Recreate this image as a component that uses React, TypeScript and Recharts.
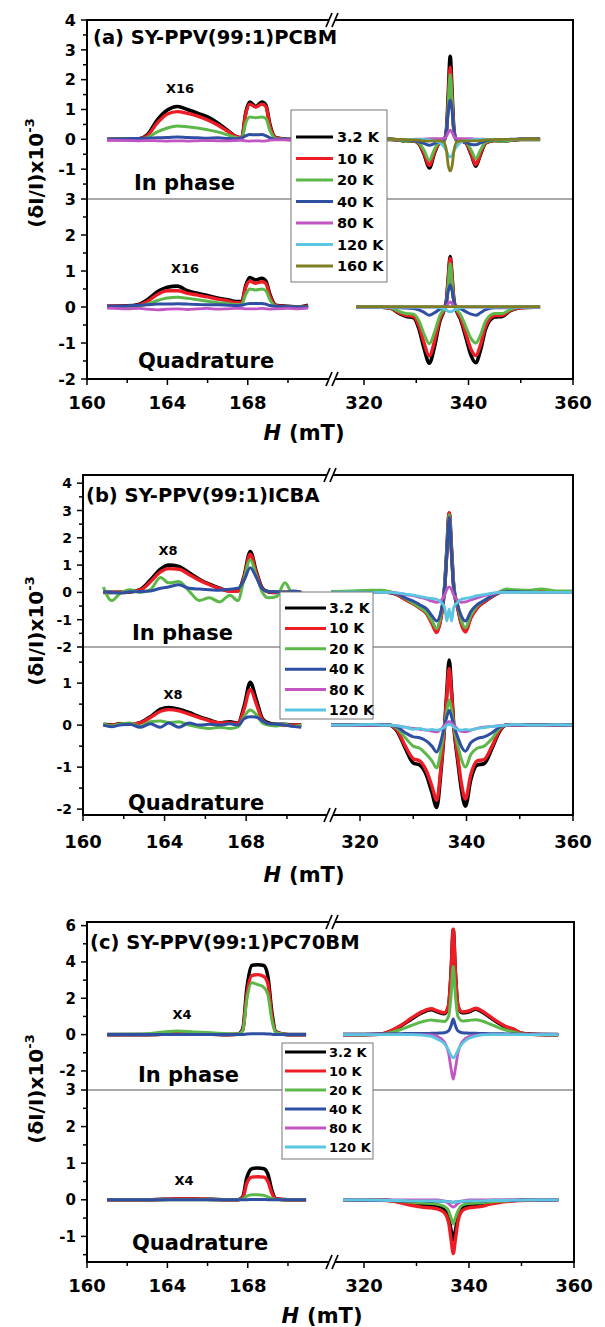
import React from 'react';
import { LineChart, Line, XAxis, YAxis } from 'recharts';

const FONT = '"DejaVu Sans", "Liberation Sans", sans-serif';

// ---------- series ----------
const seriesNames = ['3.2 K', '10 K', '20 K', '40 K', '80 K', '120 K', '160 K'];
const seriesColors = ['#000000', '#ee1c24', '#5cb848', '#2f4fa3', '#c255c4', '#5bc6e2', '#7f7f22'];
const seriesWidths = [3.6, 3.4, 3, 3, 2.8, 2.8, 2.8];

// ---------- x ticks ----------
const leftXTicks = [160, 162, 164, 166, 168, 170];
const leftXLabels = [160, 164, 168];
const rightXTicks = [320, 330, 340, 350, 360];
const rightXLabels = [320, 340, 360];

// ---------- panel (a) PCBM ----------
const aLeftX = [161, 162, 162.6, 163, 163.5, 164, 164.5, 165, 165.5, 166, 166.5, 167, 167.4, 167.7, 167.9, 168.1, 168.4, 168.7, 168.9, 169.1, 169.4, 170, 170.5, 171];
const aInLeft = [
  [0, 0, 0.02, 0.15, 0.65, 0.98, 1.1, 1.0, 0.88, 0.75, 0.55, 0.3, 0.1, 0.05, 0.9, 1.25, 1.1, 1.25, 1.15, 0.5, 0.05, 0, 0, 0],
  [0, 0, 0.02, 0.12, 0.55, 0.85, 0.93, 0.87, 0.78, 0.65, 0.48, 0.27, 0.1, 0.05, 0.85, 1.18, 1.08, 1.18, 1.1, 0.45, 0.05, 0, 0, 0],
  [0, 0, 0, 0.06, 0.25, 0.38, 0.45, 0.42, 0.38, 0.32, 0.25, 0.15, 0.06, 0.03, 0.55, 0.75, 0.72, 0.75, 0.7, 0.3, 0.02, 0, 0, 0],
  [0, 0.02, 0.03, 0.04, 0.05, 0.06, 0.08, 0.06, 0.05, 0.04, 0.05, 0.03, 0.02, 0.05, 0.12, 0.16, 0.15, 0.16, 0.12, 0.05, 0, 0, 0, 0],
  [-0.03, -0.04, -0.05, -0.04, -0.05, -0.06, -0.05, -0.06, -0.05, -0.04, -0.05, -0.05, -0.04, -0.03, -0.05, -0.06, -0.05, -0.06, -0.05, -0.03, -0.02, -0.02, -0.02, -0.02],
];
const aQuLeft = [
  [0.02, 0.03, 0.08, 0.2, 0.42, 0.55, 0.58, 0.45, 0.38, 0.32, 0.25, 0.2, 0.15, 0.15, 0.6, 0.82, 0.75, 0.8, 0.72, 0.35, 0.05, 0.02, 0, 0.05],
  [0.02, 0.02, 0.06, 0.15, 0.35, 0.45, 0.45, 0.38, 0.33, 0.28, 0.22, 0.17, 0.12, 0.12, 0.55, 0.72, 0.66, 0.7, 0.65, 0.3, 0.04, 0.01, 0, 0.03],
  [0, 0, 0.02, 0.08, 0.18, 0.25, 0.27, 0.24, 0.2, 0.16, 0.12, 0.1, 0.07, 0.07, 0.35, 0.5, 0.47, 0.5, 0.45, 0.2, 0.02, 0, 0, 0],
  [0.02, 0.03, 0.05, 0.06, 0.08, 0.08, 0.09, 0.08, 0.07, 0.06, 0.06, 0.05, 0.04, 0.05, 0.08, 0.1, 0.1, 0.1, 0.08, 0.04, 0.02, 0.01, 0, 0.01],
  [-0.03, -0.05, -0.04, -0.06, -0.08, -0.06, -0.05, -0.07, -0.05, -0.04, -0.06, -0.05, -0.04, -0.04, -0.05, -0.05, -0.05, -0.04, -0.05, -0.06, -0.05, -0.04, -0.05, -0.03],
];
const aRightX = [318.5, 322, 325, 327, 328, 329.5, 330.5, 331.5, 332.5, 333.5, 334.5, 335.3, 335.8, 336.1, 336.5, 336.9, 337.2, 337.7, 338.5, 339.5, 340.5, 341.4, 342.3, 343.3, 345, 346.5, 348, 350, 353.7];
const aInRight = [
  [0, 0, 0, -0.03, -0.06, -0.05, -0.15, -0.5, -0.96, -0.45, -0.1, -0.05, 0.35, 1.4, 2.78, 1.4, 0.35, -0.05, -0.05, -0.12, -0.5, -0.9, -0.5, -0.12, -0.04, -0.06, -0.03, 0, 0],
  [0, 0, 0, -0.03, -0.06, -0.05, -0.14, -0.46, -0.88, -0.42, -0.1, -0.05, 0.3, 1.2, 2.42, 1.2, 0.3, -0.05, -0.05, -0.11, -0.47, -0.85, -0.46, -0.11, -0.04, -0.06, -0.03, 0, 0],
  [0, 0, 0, -0.03, -0.07, -0.05, -0.12, -0.37, -0.7, -0.33, -0.08, -0.04, 0.28, 1.1, 2.17, 1.1, 0.28, -0.04, -0.05, -0.09, -0.36, -0.64, -0.36, -0.09, -0.04, -0.07, -0.03, 0, 0],
  [0, 0, 0, -0.01, -0.02, -0.04, -0.08, -0.14, -0.2, -0.14, -0.06, 0, 0.3, 0.9, 1.31, 0.9, 0.3, 0, -0.04, -0.1, -0.17, -0.18, -0.12, -0.05, -0.01, -0.02, 0, 0, 0],
  [0, 0, 0, 0, 0, 0, 0.01, 0.01, 0.02, 0.02, 0.02, 0.03, 0.1, 0.22, 0.31, 0.22, 0.1, 0.03, 0.02, 0.02, 0.02, 0.01, 0.01, 0, 0, 0, 0, 0, 0],
  [0, 0, 0, 0, 0, 0, 0, -0.01, -0.02, -0.05, -0.12, -0.25, -0.4, -0.52, -0.59, -0.52, -0.4, -0.25, -0.1, -0.04, -0.02, -0.01, 0, 0, 0, 0, 0, 0, 0],
  [0, 0, 0, 0, -0.01, -0.02, -0.03, -0.05, -0.06, -0.05, -0.05, -0.1, -0.4, -0.85, -1.06, -0.85, -0.4, -0.1, -0.05, -0.05, -0.05, -0.05, -0.04, -0.02, -0.01, 0, 0, 0, 0],
];
const aQuRight = [
  [0, 0, -0.03, -0.2, -0.26, -0.3, -0.6, -1.15, -1.56, -1.1, -0.4, -0.1, 0.2, 0.75, 1.4, 0.75, 0.2, -0.1, -0.35, -0.85, -1.35, -1.55, -1.2, -0.6, -0.28, -0.26, -0.1, -0.02, 0],
  [0, 0, -0.03, -0.18, -0.23, -0.27, -0.52, -1.0, -1.36, -0.95, -0.35, -0.08, 0.18, 0.7, 1.35, 0.7, 0.18, -0.08, -0.3, -0.75, -1.18, -1.35, -1.05, -0.52, -0.24, -0.23, -0.09, -0.02, 0],
  [0, 0, -0.02, -0.14, -0.18, -0.2, -0.38, -0.75, -1.02, -0.7, -0.25, -0.05, 0.15, 0.6, 1.2, 0.6, 0.15, -0.05, -0.22, -0.55, -0.88, -1.0, -0.78, -0.38, -0.18, -0.18, -0.07, -0.01, 0],
  [0, 0, 0, -0.02, -0.03, -0.04, -0.08, -0.15, -0.23, -0.16, -0.06, 0, 0.15, 0.42, 0.62, 0.42, 0.15, 0, -0.05, -0.13, -0.2, -0.23, -0.16, -0.07, -0.02, -0.02, -0.01, 0, 0],
  [0, 0, 0, 0, 0, 0, 0, 0, 0, 0, 0, 0.01, 0.03, 0.09, 0.14, 0.09, 0.03, 0.01, 0, 0, 0, 0, 0, 0, 0, 0, 0, 0, 0],
  [0, 0, 0, 0, 0, 0, 0, 0, 0, 0, -0.02, -0.05, -0.09, -0.12, -0.13, -0.12, -0.09, -0.05, -0.02, 0, 0, 0, 0, 0, 0, 0, 0, 0, 0],
  [0.01, 0.01, 0.01, 0.01, 0.01, 0.01, 0.01, 0.01, 0.01, 0.01, 0.01, 0.01, 0.01, 0.01, 0.01, 0.01, 0.01, 0.01, 0.01, 0.01, 0.01, 0.01, 0.01, 0.01, 0.01, 0.01, 0.01, 0.01, 0.01],
];

// ---------- panel (b) ICBA ----------
const bLeftX = [161, 161.4, 161.8, 162.3, 162.8, 163.3, 163.8, 164.2, 164.7, 165.2, 165.7, 166.2, 166.7, 167.2, 167.6, 167.9, 168.2, 168.5, 168.8, 169.1, 169.5, 169.9, 170.3, 170.7];
const bInLeft = [
  [0, 0, 0, 0.02, 0.1, 0.45, 0.85, 1.0, 0.95, 0.72, 0.48, 0.3, 0.15, 0.05, 0.06, 0.6, 1.5, 0.75, 0.15, 0.02, 0, 0, 0, 0],
  [0, 0, 0, 0.02, 0.08, 0.38, 0.75, 0.87, 0.85, 0.66, 0.45, 0.28, 0.14, 0.04, 0.05, 0.55, 1.4, 0.7, 0.13, 0.02, 0, 0, 0, 0],
  [0.2, -0.3, -0.05, 0.1, 0, 0.1, 0.55, 0.35, 0.4, 0.05, -0.3, -0.2, -0.35, -0.1, -0.3, 0.5, 1.2, 0.6, 0, -0.2, -0.15, 0.35, -0.05, 0],
  [0.02, 0, -0.02, 0.02, 0.03, 0.05, 0.15, 0.2, 0.28, 0.15, 0.12, 0.1, 0.08, 0.12, 0.15, 0.45, 0.9, 0.55, 0.12, 0.03, 0.02, 0, 0.05, 0],
];
const bQuLeft = [
  [0.02, 0, 0.03, 0.02, 0.06, 0.2, 0.38, 0.42, 0.38, 0.3, 0.2, 0.12, 0.05, 0.08, 0.05, 0.45, 1.02, 0.6, 0.15, 0.05, 0.02, 0.02, 0, 0],
  [0, 0, 0.02, 0.02, 0.05, 0.18, 0.33, 0.37, 0.34, 0.26, 0.18, 0.1, 0.05, 0.05, 0.04, 0.38, 0.85, 0.5, 0.12, 0.03, 0.01, 0, 0, 0],
  [0.03, -0.02, 0.02, 0.05, -0.03, 0.08, 0.1, 0.06, 0.08, 0, -0.05, -0.08, -0.05, -0.08, -0.04, 0.2, 0.36, 0.25, 0.05, 0, -0.02, 0.02, -0.03, 0],
  [0, -0.04, 0, 0.02, -0.05, 0.03, -0.05, 0.05, -0.05, 0.05, 0, 0.02, 0, 0.03, 0, 0.15, 0.2, 0.19, 0.1, 0.03, 0.02, 0, -0.03, -0.05],
];
const bRightX = [314.5, 318, 322, 324, 325.5, 327, 328.5, 330, 331.2, 332.5, 333.5, 334.4, 335.2, 335.9, 336.3, 336.75, 337.2, 337.6, 338.4, 339, 339.8, 340.8, 342, 343.3, 344.8, 346.2, 347.5, 349, 351.5, 354, 357, 360];
const bInRight = [
  [0, 0.02, 0.03, 0.02, 0, -0.08, -0.25, -0.4, -0.55, -0.75, -1.08, -1.38, -0.9, 0.2, 1.5, 2.9, 1.5, 0.2, -0.6, -1.1, -1.38, -0.9, -0.55, -0.35, -0.15, 0, 0.05, 0.05, 0.03, 0.02, 0.02, 0.02],
  [0, 0.02, 0.03, 0.02, 0, -0.08, -0.26, -0.42, -0.58, -0.78, -1.15, -1.47, -0.95, 0.2, 1.5, 2.92, 1.5, 0.2, -0.62, -1.15, -1.45, -0.95, -0.58, -0.35, -0.15, 0, 0.05, 0.05, 0.04, 0.03, 0.03, 0.03],
  [0.02, 0.05, 0.08, 0.08, 0.03, -0.05, -0.22, -0.4, -0.55, -0.75, -1.05, -1.33, -0.8, 0.3, 1.5, 2.85, 1.5, 0.3, -0.5, -1.0, -1.3, -0.85, -0.5, -0.3, -0.12, 0.02, 0.12, 0.1, 0.08, 0.12, 0.05, 0.05],
  [0, 0, 0, 0, 0, -0.05, -0.2, -0.32, -0.45, -0.6, -0.85, -1.05, -0.7, 0.2, 1.4, 2.75, 1.4, 0.2, -0.5, -0.85, -1.05, -0.7, -0.45, -0.3, -0.12, 0, 0.02, 0.02, 0.01, 0, 0, 0],
  [0, 0, 0, 0, 0, -0.03, -0.08, -0.12, -0.18, -0.25, -0.32, -0.36, -0.3, -0.1, 0.1, 0.2, 0.1, -0.1, -0.3, -0.36, -0.35, -0.28, -0.2, -0.12, -0.06, 0, 0, 0, 0, 0, 0, 0],
  [0, 0.02, 0, 0, 0, -0.02, -0.06, -0.1, -0.15, -0.2, -0.22, -0.25, -0.35, -0.55, -1.05, -0.6, -1.05, -0.55, -0.35, -0.25, -0.22, -0.18, -0.12, -0.08, -0.03, 0, 0, 0, 0, 0, 0, 0],
];
const bQuRight = [
  [0, 0, 0, 0, 0, -0.15, -0.55, -0.9, -0.95, -1.2, -1.6, -1.96, -1.1, 0, 0.8, 1.55, 0.8, 0, -0.9, -1.5, -1.93, -1.3, -0.95, -0.92, -0.55, -0.15, 0, 0, 0, 0, 0, 0],
  [0, 0, 0, 0, 0, -0.13, -0.5, -0.8, -0.85, -1.1, -1.45, -1.79, -1.0, 0, 0.7, 1.35, 0.7, 0, -0.8, -1.35, -1.76, -1.18, -0.85, -0.82, -0.5, -0.13, 0, 0, 0, 0, 0, 0],
  [0, 0, 0, 0, 0, -0.08, -0.3, -0.5, -0.55, -0.7, -0.85, -1.02, -0.6, 0, 0.35, 0.6, 0.35, 0, -0.5, -0.8, -1.0, -0.7, -0.55, -0.5, -0.32, -0.08, 0, 0, 0, 0, 0, 0],
  [0, 0, 0, 0, 0, -0.05, -0.18, -0.28, -0.3, -0.38, -0.5, -0.64, -0.38, 0, 0.2, 0.35, 0.2, 0, -0.3, -0.5, -0.62, -0.42, -0.32, -0.28, -0.18, -0.05, 0, 0, 0, 0, 0, 0],
  [0, 0, 0, 0, 0, -0.02, -0.05, -0.08, -0.1, -0.12, -0.14, -0.16, -0.1, 0, 0.05, 0.08, 0.05, 0, -0.1, -0.15, -0.16, -0.12, -0.08, -0.05, -0.03, -0.01, 0, 0, 0, 0, 0, 0],
  [0, 0, 0.02, 0, 0, -0.02, -0.05, -0.1, -0.08, -0.12, -0.1, -0.12, -0.1, -0.05, 0, 0.02, 0, -0.05, -0.1, -0.12, -0.1, -0.12, -0.08, -0.06, -0.03, -0.02, 0, 0.02, 0, 0, 0.01, 0],
];

// ---------- panel (c) PC70BM ----------
const cLeftX = [161, 162, 163, 163.8, 164.5, 165.3, 166.2, 167, 167.5, 167.75, 167.95, 168.2, 168.5, 168.8, 169, 169.2, 169.4, 170, 170.9];
const cInLeft = [
  [0, 0, 0, 0.02, 0.05, 0.04, 0.02, 0, 0.02, 0.3, 2.5, 3.8, 3.85, 3.8, 3.2, 1.2, 0.15, 0, 0],
  [0, 0, 0, 0.02, 0.05, 0.04, 0.02, 0, 0.02, 0.25, 2.2, 3.25, 3.3, 3.2, 2.8, 1.0, 0.12, 0, 0],
  [0, 0.02, 0.05, 0.15, 0.2, 0.15, 0.1, 0.05, 0.03, 0.2, 1.9, 2.85, 2.75, 2.6, 2.2, 0.8, 0.1, 0, 0],
  [0, 0, 0, 0, 0.01, 0, 0, 0, 0, 0, 0.03, 0.05, 0.05, 0.05, 0.04, 0.02, 0, 0, 0],
];
const cQuLeft = [
  [0, 0, 0, 0.01, 0.02, 0.02, 0.01, 0, 0, 0.08, 0.6, 0.85, 0.87, 0.85, 0.7, 0.25, 0.03, 0, 0],
  [0, 0, 0, 0.01, 0.02, 0.02, 0.01, 0, 0, 0.05, 0.45, 0.62, 0.63, 0.62, 0.5, 0.18, 0.02, 0, 0],
  [0, 0, 0, 0, 0, 0, 0, 0, 0, 0.02, 0.1, 0.14, 0.14, 0.12, 0.08, 0.04, 0.01, 0, 0],
  [0, 0, 0, 0, 0, 0, 0, 0, 0, 0, 0, 0.01, 0.01, 0.01, 0, 0, 0, 0, 0],
];
const cRightX = [316, 320, 323, 325, 327, 329, 331, 332.8, 334, 335.3, 336.1, 336.6, 337, 337.4, 337.9, 338.7, 339.9, 341.3, 342.5, 344, 345.5, 347, 348.5, 350, 352, 354.5, 357];
const cInRight = [
  [0, 0, 0.02, 0.18, 0.47, 0.85, 1.2, 1.37, 1.25, 1.15, 1.55, 3.45, 5.78, 3.45, 1.55, 1.2, 1.25, 1.4, 1.25, 0.95, 0.66, 0.42, 0.28, 0.07, 0.02, 0, 0],
  [0, 0, 0.02, 0.2, 0.5, 0.9, 1.25, 1.42, 1.3, 1.2, 1.6, 3.5, 5.8, 3.5, 1.6, 1.25, 1.3, 1.45, 1.3, 1.0, 0.7, 0.45, 0.3, 0.08, 0.02, 0, 0],
  [0, 0, 0.01, 0.1, 0.28, 0.5, 0.7, 0.8, 0.76, 0.72, 1.0, 2.2, 3.76, 2.2, 1.0, 0.75, 0.78, 0.82, 0.75, 0.58, 0.4, 0.25, 0.15, 0.03, 0, 0, 0],
  [0.02, 0.02, 0.03, 0.04, 0.05, 0.06, 0.06, 0.07, 0.08, 0.1, 0.2, 0.5, 0.86, 0.5, 0.2, 0.1, 0.08, 0.07, 0.06, 0.05, 0.05, 0.04, 0.03, 0.02, 0.02, 0.02, 0.01],
  [0, 0, 0, 0, 0, 0, 0, -0.02, -0.1, -0.4, -1.0, -1.9, -2.45, -1.9, -1.0, -0.4, -0.12, -0.03, 0, 0, 0, 0, 0, 0, 0, 0, 0],
  [0, 0, 0, 0, 0, 0, -0.03, -0.1, -0.25, -0.5, -0.85, -1.15, -1.28, -1.15, -0.85, -0.5, -0.22, -0.08, -0.02, 0, 0, 0, 0, 0, 0, 0, 0],
];
const cQuRight = [
  [0, 0, 0, -0.02, -0.05, -0.1, -0.13, -0.15, -0.17, -0.25, -0.45, -0.85, -1.1, -0.85, -0.45, -0.2, -0.15, -0.13, -0.12, -0.08, -0.05, -0.03, -0.02, -0.01, 0, 0, 0],
  [0, 0, -0.01, -0.03, -0.08, -0.15, -0.2, -0.22, -0.25, -0.35, -0.6, -1.1, -1.47, -1.1, -0.6, -0.3, -0.22, -0.2, -0.18, -0.12, -0.08, -0.05, -0.03, -0.02, 0, 0, 0],
  [0, 0, 0, -0.02, -0.04, -0.07, -0.09, -0.1, -0.12, -0.18, -0.3, -0.5, -0.66, -0.5, -0.3, -0.15, -0.1, -0.09, -0.08, -0.06, -0.04, -0.03, -0.02, -0.01, 0, 0, 0],
  [0, -0.01, -0.02, -0.02, -0.03, -0.03, -0.02, -0.04, -0.03, -0.04, -0.05, -0.06, -0.07, -0.06, -0.05, -0.04, -0.03, -0.02, -0.03, -0.02, -0.01, -0.01, -0.02, 0, 0, -0.01, 0],
  [0, 0, 0, 0, 0, 0, 0, 0, 0, -0.04, -0.1, -0.17, -0.2, -0.17, -0.1, -0.04, 0, 0, 0, 0, 0, 0, 0, 0, 0, 0, 0],
  [0, 0, -0.01, -0.02, -0.02, -0.03, -0.03, -0.03, -0.03, -0.04, -0.05, -0.06, -0.08, -0.06, -0.05, -0.04, -0.03, -0.03, -0.03, -0.02, -0.02, -0.02, -0.01, -0.01, 0, 0, 0],
];

// ---------- helpers ----------
function rows(xs: number[], ys: number[][]) {
  return xs.map((x, i) => {
    const r: any = { x };
    ys.forEach((arr, k) => { r['s' + k] = arr[i]; });
    return r;
  });
}

function makeYTick(labels: number[], fs: number) {
  return (props: any) => {
    const { x, y, payload } = props;
    const v = payload.value;
    const major = labels.some((l) => Math.abs(l - v) < 1e-6);
    const len = major ? 6 : 4;
    return (
      <g>
        <line x1={x} x2={x - len} y1={y} y2={y} stroke="#000" strokeWidth={1.5} />
        {major && (
          <text x={x - len - 5} y={y} dy="0.36em" textAnchor="end" fontSize={fs} fontWeight="bold" fontFamily={FONT} fill="#000">
            {String(v)}
          </text>
        )}
      </g>
    );
  };
}

function makeXTick(labels: number[], offset: number) {
  return (props: any) => {
    const { x, y, payload } = props;
    const v = payload.value;
    const major = labels.includes(v);
    const len = major ? 6 : 4;
    return (
      <g>
        <line x1={x} x2={x} y1={y} y2={y + len} stroke="#000" strokeWidth={1.5} />
        {major && (
          <text x={x} y={y + offset} dy="0.36em" textAnchor="middle" fontSize={18} fontWeight="bold" fontFamily={FONT} fill="#000">
            {String(v)}
          </text>
        )}
      </g>
    );
  };
}

type SubProps = {
  left: number; top: number; w: number; h: number;
  xDomain: [number, number]; yDomain: [number, number];
  xs: number[]; ys: number[][];
  yTicks?: number[]; yLabels?: number[]; yFont?: number;
  xTicks?: number[]; xLabels?: number[]; xOffset?: number;
};

function Sub(p: SubProps) {
  const YW = 60, XH = 45, M = 10, RM = 25;
  const showY = !!p.yTicks;
  const showX = !!p.xTicks;
  const cw = p.w + (showY ? YW : 0) + RM;
  const ch = p.h + M + (showX ? XH : M);
  return (
    <div style={{ position: 'absolute', left: p.left - (showY ? YW : 0), top: p.top - M, width: cw, height: ch }}>
      <LineChart width={cw} height={ch} data={rows(p.xs, p.ys)} margin={{ top: M, right: RM, bottom: showX ? 0 : M, left: 0 }}>
        <XAxis
          type="number" dataKey="x" domain={p.xDomain} allowDataOverflow hide={!showX}
          ticks={p.xTicks} interval={0} tickLine={false} axisLine={false} tickSize={0} tickMargin={0} height={XH}
          tick={showX ? makeXTick(p.xLabels || [], p.xOffset || 24) : false}
        />
        <YAxis
          type="number" domain={p.yDomain} allowDataOverflow hide={!showY} width={YW}
          ticks={p.yTicks} interval={0} tickLine={false} axisLine={false} tickSize={0} tickMargin={0}
          tick={showY ? makeYTick(p.yLabels || [], p.yFont || 16) : false}
        />
        {p.ys.map((arr, k) => (
          <Line
            key={k} type="monotone" dataKey={'s' + k} stroke={seriesColors[k]} strokeWidth={seriesWidths[k]}
            dot={false} isAnimationActive={false} strokeLinejoin="round"
          />
        ))}
      </LineChart>
    </div>
  );
}

type PanelLayout = {
  left: number; brk: number; right: number; top: number; mid: number; bottom: number;
  lDom: [number, number]; rDom: [number, number];
  inDom: [number, number]; quDom: [number, number];
  inTicks: number[]; inLabels: number[]; quTicks: number[]; quLabels: number[]; yFont: number; xOffset: number;
};

function Panel({ L, data }: { L: PanelLayout; data: { lx: number[]; rx: number[]; inL: number[][]; quL: number[][]; inR: number[][]; quR: number[][] } }) {
  const wl = L.brk - L.left;
  const wr = L.right - L.brk;
  const hi = L.mid - L.top;
  const hq = L.bottom - L.mid;
  return (
    <>
      <Sub left={L.left} top={L.top} w={wl} h={hi} xDomain={L.lDom} yDomain={L.inDom} xs={data.lx} ys={data.inL}
        yTicks={L.inTicks} yLabels={L.inLabels} yFont={L.yFont} />
      <Sub left={L.left} top={L.mid} w={wl} h={hq} xDomain={L.lDom} yDomain={L.quDom} xs={data.lx} ys={data.quL}
        yTicks={L.quTicks} yLabels={L.quLabels} yFont={L.yFont} xTicks={leftXTicks} xLabels={leftXLabels} xOffset={L.xOffset} />
      <Sub left={L.brk} top={L.top} w={wr} h={hi} xDomain={L.rDom} yDomain={L.inDom} xs={data.rx} ys={data.inR} />
      <Sub left={L.brk} top={L.mid} w={wr} h={hq} xDomain={L.rDom} yDomain={L.quDom} xs={data.rx} ys={data.quR}
        xTicks={rightXTicks} xLabels={rightXLabels} xOffset={L.xOffset} />
    </>
  );
}

const layA: PanelLayout = {
  left: 87, brk: 333, right: 573, top: 20, mid: 199, bottom: 379,
  lDom: [160, 172.24], rDom: [314.07, 360], inDom: [-2, 4], quDom: [-2, 3],
  inTicks: [-1.5, -1, -0.5, 0, 0.5, 1, 1.5, 2, 2.5, 3, 3.5, 4], inLabels: [-1, 0, 1, 2, 3, 4],
  quTicks: [-2, -1.5, -1, -0.5, 0, 0.5, 1, 1.5, 2, 2.5, 3], quLabels: [-2, -1, 0, 1, 2, 3], yFont: 16, xOffset: 24,
};
const layB: PanelLayout = {
  left: 83, brk: 331, right: 573, top: 475, mid: 647, bottom: 815,
  lDom: [160, 172.16], rDom: [314.55, 360], inDom: [-2, 4.3], quDom: [-2.14, 1.86],
  inTicks: [-2, -1.5, -1, -0.5, 0, 0.5, 1, 1.5, 2, 2.5, 3, 3.5, 4], inLabels: [-2, -1, 0, 1, 2, 3, 4],
  quTicks: [-2, -1.5, -1, -0.5, 0, 0.5, 1, 1.5], quLabels: [-2, -1, 0, 1], yFont: 14, xOffset: 27,
};
const layC: PanelLayout = {
  left: 87, brk: 333, right: 574, top: 922, mid: 1090, bottom: 1262,
  lDom: [160, 172.24], rDom: [314.1, 360], inDom: [-3.05, 6.2], quDom: [-1.7, 3],
  inTicks: [-2, -1, 0, 1, 2, 3, 4, 5, 6], inLabels: [-2, 0, 2, 4, 6],
  quTicks: [-1.5, -1, -0.5, 0, 0.5, 1, 1.5, 2, 2.5, 3], quLabels: [-1, 0, 1, 2, 3], yFont: 15, xOffset: 24,
};

type Deco = {
  title: string; tx: number; ty: number;
  mult: string; m1: [number, number]; m2: [number, number];
  inPos: [number, number]; quPos: [number, number];
  yTitle: [number, number]; hPos: [number, number];
  leg: { x: number; y: number; w: number; h: number; y0: number; step: number; lx1: number; lx2: number; tx: number; fs: number; n: number };
};

const decoA: Deco = {
  title: '(a) SY-PPV(99:1)PCBM', tx: 93, ty: 37, mult: 'X16', m1: [180, 88], m2: [185, 268],
  inPos: [134, 182], quPos: [138, 360], yTitle: [36, 173], hPos: [304, 432],
  leg: { x: 291, y: 110, w: 96, h: 172, y0: 137, step: 21.5, lx1: 296, lx2: 333, tx: 337, fs: 14.5, n: 7 },
};
const decoB: Deco = {
  title: '(b) SY-PPV(99:1)ICBA', tx: 86, ty: 495, mult: 'X8', m1: [168, 550], m2: [173, 694],
  inPos: [132, 632], quPos: [128, 802], yTitle: [36, 631], hPos: [304, 874],
  leg: { x: 280, y: 592, w: 93, h: 127, y0: 608, step: 20.4, lx1: 285, lx2: 326, tx: 329, fs: 14, n: 6 },
};
const decoC: Deco = {
  title: '(c) SY-PPV(99:1)PC70BM', tx: 90, ty: 942, mult: 'X4', m1: [182, 1014], m2: [184, 1180],
  inPos: [138, 1074], quPos: [132, 1242], yTitle: [36, 1089], hPos: [322, 1315],
  leg: { x: 282, y: 1043, w: 91, h: 116, y0: 1052, step: 19, lx1: 285, lx2: 326, tx: 329, fs: 13, n: 6 },
};

function BreakMark({ x, y }: { x: number; y: number }) {
  return (
    <g>
      <polygon points={`${x - 7},${y + 7} ${x - 1},${y - 7} ${x + 5},${y - 7} ${x - 1},${y + 7}`} fill="#fff" />
      <line x1={x - 7} y1={y + 7} x2={x - 1} y2={y - 7} stroke="#000" strokeWidth={1.7} />
      <line x1={x - 1} y1={y + 7} x2={x + 5} y2={y - 7} stroke="#000" strokeWidth={1.7} />
    </g>
  );
}

function Overlay({ L, D }: { L: PanelLayout; D: Deco }) {
  const t = { fontFamily: FONT, fontWeight: 'bold' as const, fill: '#000' };
  return (
    <g>
      <line x1={L.left} x2={L.right} y1={L.mid} y2={L.mid} stroke="#555" strokeWidth={1} />
      <rect x={L.left} y={L.top} width={L.right - L.left} height={L.bottom - L.top} fill="none" stroke="#000" strokeWidth={2} />
      <BreakMark x={L.brk} y={L.top} />
      <BreakMark x={L.brk} y={L.bottom} />
      <text x={D.tx} y={D.ty} dy="0.36em" fontSize={19.5} {...t}>{D.title}</text>
      <text x={D.m1[0]} y={D.m1[1]} dy="0.36em" textAnchor="middle" fontSize={13} {...t}>{D.mult}</text>
      <text x={D.m2[0]} y={D.m2[1]} dy="0.36em" textAnchor="middle" fontSize={13} {...t}>{D.mult}</text>
      <text x={D.inPos[0]} y={D.inPos[1]} dy="0.36em" fontSize={21} {...t}>In phase</text>
      <text x={D.quPos[0]} y={D.quPos[1]} dy="0.36em" fontSize={21} {...t}>Quadrature</text>
      <text x={D.yTitle[0]} y={D.yTitle[1]} dy="0.36em" textAnchor="middle" fontSize={20} {...t}
        transform={`rotate(-90 ${D.yTitle[0]} ${D.yTitle[1]})`}>
        (δI/I)x10<tspan fontSize={13} dy={-9}>-3</tspan>
      </text>
      <text x={D.hPos[0]} y={D.hPos[1]} dy="0.36em" textAnchor="middle" fontSize={21} {...t}>
        <tspan fontStyle="italic">H</tspan><tspan dx={8}>(mT)</tspan>
      </text>
      <rect x={D.leg.x} y={D.leg.y} width={D.leg.w} height={D.leg.h} fill="#fff" stroke="#777" strokeWidth={1} />
      {seriesNames.slice(0, D.leg.n).map((nm, k) => {
        const yy = D.leg.y0 + k * D.leg.step;
        return (
          <g key={nm}>
            <line x1={D.leg.lx1} x2={D.leg.lx2} y1={yy} y2={yy} stroke={seriesColors[k]} strokeWidth={3} />
            <text x={D.leg.tx} y={yy} dy="0.36em" fontSize={D.leg.fs} {...t}>{nm}</text>
          </g>
        );
      })}
    </g>
  );
}

export default function App() {
  return (
    <div style={{ position: 'absolute', left: 0, top: 0, width: 605, height: 1327, background: '#fff', overflow: 'hidden' }}>
      <Panel L={layA} data={{ lx: aLeftX, rx: aRightX, inL: aInLeft, quL: aQuLeft, inR: aInRight, quR: aQuRight }} />
      <Panel L={layB} data={{ lx: bLeftX, rx: bRightX, inL: bInLeft, quL: bQuLeft, inR: bInRight, quR: bQuRight }} />
      <Panel L={layC} data={{ lx: cLeftX, rx: cRightX, inL: cInLeft, quL: cQuLeft, inR: cInRight, quR: cQuRight }} />
      <svg width={605} height={1327} style={{ position: 'absolute', left: 0, top: 0, pointerEvents: 'none' }}>
        <Overlay L={layA} D={decoA} />
        <Overlay L={layB} D={decoB} />
        <Overlay L={layC} D={decoC} />
      </svg>
    </div>
  );
}
